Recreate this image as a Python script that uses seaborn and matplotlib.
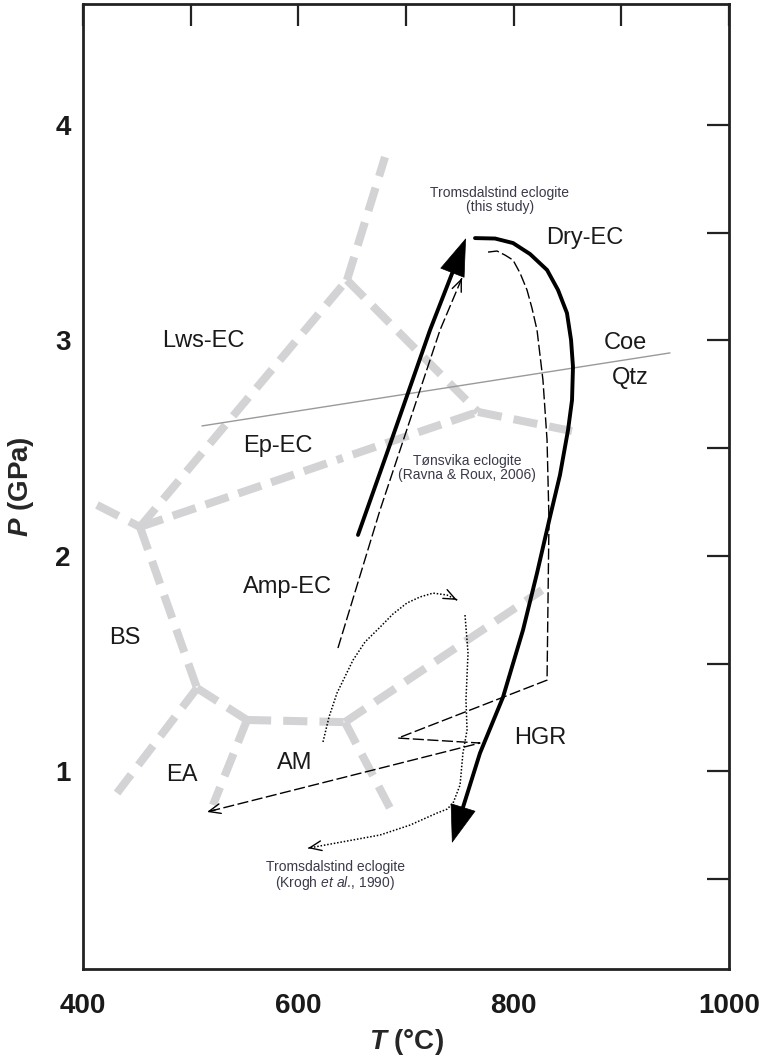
import numpy as np
import matplotlib
matplotlib.use('Agg')
import matplotlib.pyplot as plt
import seaborn as sns

# reaction boundaries, T (°C) and P (GPa), one list per segment
bound_T = [[413.0, 452.9], [452.9, 645.2], [645.2, 680.5], [645.2, 766.9], [766.9, 854.2],
           [452.9, 505.9], [505.9, 431.6], [505.9, 552.3], [552.3, 520.7], [552.3, 643.3],
           [643.3, 685.1], [643.3, 826.3]]
bound_P = [[2.236, 2.134], [2.134, 3.280], [3.280, 3.851], [3.280, 2.668], [2.668, 2.579],
           [2.134, 1.386], [1.386, 0.899], [1.386, 1.238], [1.238, 0.843], [1.238, 1.228],
           [1.228, 0.829], [1.228, 1.841]]
# Ep-EC / Amp-EC boundary (dash-dot)
epamp_T = [452.9, 766.9]
epamp_P = [2.134, 2.668]
# coesite = quartz
coe_T = [510.5, 945.2]
coe_P = [2.603, 2.942]

# Tromsdalstind eclogite (this study)
study_up_T = [655.4, 683.3, 722.3, 755.7]
study_up_P = [2.097, 2.491, 3.048, 3.475]
study_dn_T = [764.1, 782.7, 799.4, 815.2, 831.0, 841.2, 849.5, 853.3, 855.1, 854.2, 850.5,
              843.0, 833.7, 821.7, 808.7, 790.1, 768.7, 742.7]
study_dn_P = [3.475, 3.473, 3.452, 3.401, 3.327, 3.234, 3.127, 3.002, 2.877, 2.723, 2.584,
              2.375, 2.180, 1.920, 1.656, 1.344, 1.084, 0.667]

# Tonsvika eclogite (Ravna & Roux, 2006)
tons_up_T = [636.8, 675.9, 731.6, 752.0]
tons_up_P = [1.572, 2.213, 3.048, 3.290]
tons_dn_T = [776.2, 784.5, 792.0, 799.4, 805.9, 812.4, 817.0, 821.7, 827.2, 831.0, 832.8,
             831.9, 831.0, 692.6, 768.7, 515.2]
tons_dn_P = [3.410, 3.415, 3.396, 3.373, 3.313, 3.234, 3.150, 3.048, 2.816, 2.538, 2.166,
             1.795, 1.423, 1.154, 1.131, 0.811]

# Tromsdalstind eclogite (Krogh et al., 1990)
krogh_up_T = [622.9, 628.5, 635.9, 650.8, 661.9, 675.9, 687.9, 700.9, 713.0, 725.1, 738.1, 747.4]
krogh_up_P = [1.136, 1.252, 1.363, 1.516, 1.600, 1.669, 1.730, 1.781, 1.809, 1.827, 1.818, 1.795]
krogh_dn_T = [754.8, 757.6, 755.7, 756.7, 752.9, 750.2, 743.7, 738.1, 728.8, 703.7, 675.9, 609.0]
krogh_dn_P = [1.725, 1.549, 1.331, 1.191, 1.085, 0.936, 0.852, 0.824, 0.806, 0.750, 0.704, 0.643]

facies = ['Lws-EC', 'Ep-EC', 'Amp-EC', 'BS', 'EA', 'AM', 'HGR', 'Dry-EC', 'Coe', 'Qtz']
facies_T = [511.5, 581.1, 589.5, 439.0, 491.9, 596.9, 824.5, 866.3, 903.4, 908.1]
facies_P = [2.997, 2.510, 1.855, 1.618, 0.982, 1.038, 1.154, 3.475, 2.988, 2.825]

notes = ['Tromsdalstind eclogite\n(this study)',
         'T\u00f8nsvika eclogite\n(Ravna & Roux, 2006)',
         'Tromsdalstind eclogite\n(Krogh $\\mathsf{et\\ al}$., 1990)']
notes_T = [787.3, 756.7, 634.1]
notes_P = [3.652, 2.408, 0.513]

sns.set_style('white')
plt.rcParams['font.family'] = ['Liberation Sans', 'DejaVu Sans']
plt.rcParams['mathtext.fontset'] = 'custom'
plt.rcParams['mathtext.rm'] = 'Liberation Sans:bold'
plt.rcParams['mathtext.it'] = 'Liberation Sans:bold:italic'
plt.rcParams['mathtext.sf'] = 'Liberation Sans:italic'

fig = plt.figure(figsize=(7.63, 10.57), dpi=100)
ax = fig.add_axes([83 / 763, 88 / 1057, 646 / 763, 965.5 / 1057])

gray = '#d3d3d5'
for t, p in zip(bound_T, bound_P):
    sns.lineplot(x=t, y=p, sort=False, estimator=None, ax=ax, color=gray, lw=5.8,
                 linestyle=(0, (3, 1.5)))
sns.lineplot(x=epamp_T, y=epamp_P, sort=False, estimator=None, ax=ax, color=gray, lw=5.8,
             linestyle=(0, (3, 1.3, 3, 1.3, 3, 1.3, 3, 1.3, 3, 1.3, 3, 1.3, 0.8, 1.3)))
sns.lineplot(x=coe_T, y=coe_P, sort=False, estimator=None, ax=ax, color='#9a9a9a', lw=1.0)


def head(T, P, style, lw, ms, frac=0.03):
    # arrowhead at the last point, pointing along the last segment
    tip = (T[-1], P[-1])
    back = (T[-1] - frac * (T[-1] - T[-2]), P[-1] - frac * (P[-1] - P[-2]))
    ax.annotate('', xy=tip, xytext=back,
                arrowprops=dict(arrowstyle=style, color='black', lw=lw,
                                shrinkA=0, shrinkB=0, mutation_scale=ms))


thick = dict(color='black', lw=2.8)
sns.lineplot(x=study_up_T[:-1] + [study_up_T[-1] - 4], y=study_up_P[:-1] + [study_up_P[-1] - 0.05],
             sort=False, estimator=None, ax=ax, **thick)
sns.lineplot(x=study_dn_T[:-1] + [study_dn_T[-1] + 3], y=study_dn_P[:-1] + [study_dn_P[-1] + 0.05],
             sort=False, estimator=None, ax=ax, **thick)
head(study_up_T, study_up_P, '-|>,head_length=1.3,head_width=0.45', 0.5, 20, frac=0.3)
head(study_dn_T, study_dn_P, '-|>,head_length=1.3,head_width=0.45', 0.5, 20, frac=0.1)

dash = dict(color='black', lw=1.0, linestyle=(0, (8, 2.5)))
sns.lineplot(x=tons_up_T, y=tons_up_P, sort=False, estimator=None, ax=ax, **dash)
sns.lineplot(x=tons_dn_T, y=tons_dn_P, sort=False, estimator=None, ax=ax, **dash)
head(tons_up_T, tons_up_P, '->,head_length=0.6,head_width=0.25', 1.0, 14)
head(tons_dn_T, tons_dn_P, '->,head_length=0.6,head_width=0.25', 1.0, 14)

dot = dict(color='black', lw=1.1, linestyle=(0, (1, 1.2)))
sns.lineplot(x=krogh_up_T, y=krogh_up_P, sort=False, estimator=None, ax=ax, **dot)
sns.lineplot(x=krogh_dn_T, y=krogh_dn_P, sort=False, estimator=None, ax=ax, **dot)
head(krogh_up_T, krogh_up_P, '->,head_length=0.6,head_width=0.25', 1.0, 14)
head(krogh_dn_T, krogh_dn_P, '->,head_length=0.6,head_width=0.25', 1.0, 14)

for name, t, p in zip(facies, facies_T, facies_P):
    ax.text(t, p, name, ha='center', va='center', fontsize=17, color='#1a1a1a')
for name, t, p in zip(notes, notes_T, notes_P):
    ax.text(t, p, name, ha='center', va='center', fontsize=10, color='#3a3a4a',
            linespacing=1.05)

ax.set_xlim(400, 1000)
ax.set_ylim(0.082, 4.564)
ax.set_xticks(np.arange(400, 1001, 100))
ax.set_xticklabels(['400', '', '600', '', '800', '', '1000'], fontweight='bold')
ax.set_yticks(np.arange(0.5, 4.01, 0.5))
ax.set_yticklabels(['', '1', '', '2', '', '3', '', '4'], fontweight='bold')
ax.tick_params(direction='in', length=16, width=1.6, color='#222222', labelsize=20,
               top=True, right=True, labelcolor='#1a1a1a')
ax.tick_params(axis='x', pad=17)
ax.tick_params(axis='y', pad=9)
for s in ax.spines.values():
    s.set_linewidth(2.0)
    s.set_color('#222222')

ax.set_xlabel('$\\mathit{T}$ (°C)', fontsize=20, fontweight='bold', labelpad=6)
ax.set_ylabel('$\\mathit{P}$ (GPa)', fontsize=20, fontweight='bold', labelpad=14)

fig.savefig('out.png', dpi=100)
